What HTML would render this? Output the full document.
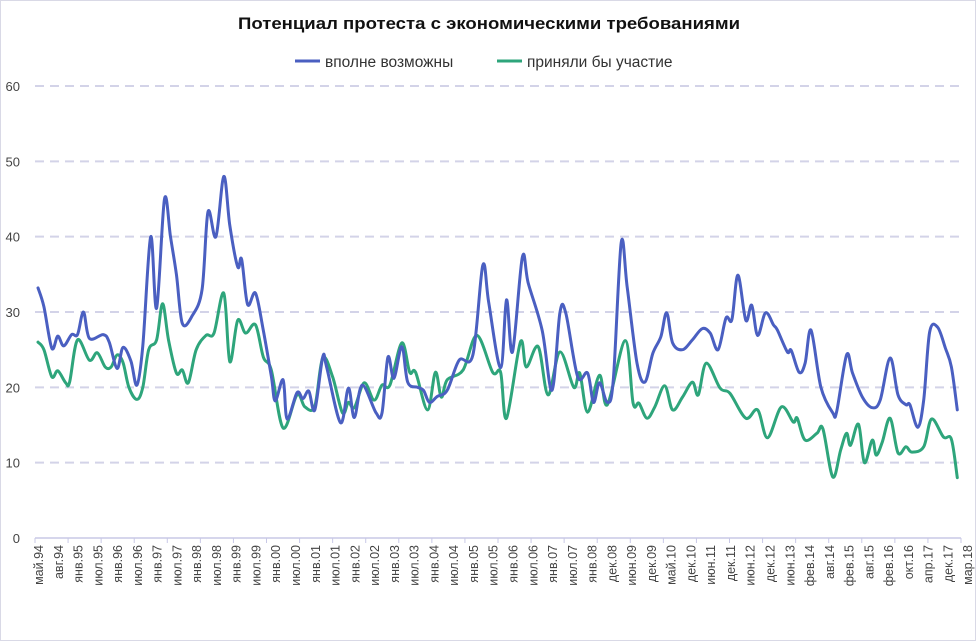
<!DOCTYPE html>
<html><head><meta charset="utf-8"><style>
html,body{margin:0;padding:0;background:#fff;}
body{width:976px;height:641px;overflow:hidden;}
svg{display:block;font-family:"Liberation Sans","DejaVu Sans",sans-serif;}
</style></head><body>
<svg id="chart" width="976" height="641" viewBox="0 0 976 641">
<rect x="0.5" y="0.5" width="975" height="640" fill="#fff" stroke="#d9d9e6"/>
<text x="489" y="29" text-anchor="middle" font-size="17" font-weight="bold" fill="#111" textLength="502" lengthAdjust="spacingAndGlyphs">Потенциал  протеста  с экономическими  требованиями</text>
<g>
<g>
<line x1="295" y1="61" x2="320" y2="61" stroke="#4a5fc1" stroke-width="3"/>
<text x="325" y="67" font-size="15.5" fill="#333">вполне возможны</text></g>
<g>
<line x1="497" y1="61" x2="522" y2="61" stroke="#2ea57b" stroke-width="3"/>
<text x="527" y="67" font-size="15.5" fill="#333">приняли бы участие</text></g>
</g>
<g id="grid"></g><g id="axes"></g><g id="series"></g>
</svg>
<script>
const xLabels=["май.94","авг.94","янв.95","июл.95","янв.96","июл.96","янв.97","июл.97","янв.98","июл.98","янв.99","июл.99","янв.00","июл.00","янв.01","июл.01","янв.02","июл.02","янв.03","июл.03","янв.04","июл.04","янв.05","июл.05","янв.06","июл.06","янв.07","июл.07","янв.08","дек.08","июн.09","дек.09","май.10","дек.10","июн.11","дек.11","июн.12","дек.12","июн.13","фев.14","авг.14","фев.15","авг.15","фев.16","окт.16","апр.17","дек.17","мар.18"];
const yTicks=[0,10,20,30,40,50,60];
// time positions in tenths of a label step
const possibleT=[0,3,7,10,13,17,20,23,26,33,36,40,43,47,50,53,57,60,64,67,70,73,78,83,86,90,94,97,101,103,106,110,114,118,120,124,126,131,134,137,140,144,146,153,157,160,164,171,174,177,180,184,187,192,195,198,202,207,213,220,225,228,234,237,240,245,248,255,260,264,267,273,278,281,284,288,291,295,298,303,307,311,315,318,321,326,331,336,340,344,348,351,354,358,361,364,368,372,374,379,381,385,388,391,396,402,404,409,412,417,422,426,431,435,439,441,445,448,451,455,459,462,465];
const possibleV=[33.2,30.7,25.2,26.8,25.5,27,27,30,26.5,27,26,22.5,25.3,23.5,20.3,25.5,40,30.5,45,40,35,28.5,29.5,33,43.3,40,48,41.5,36,37,31,32.5,27.5,21.5,18.2,21,15.8,19.3,18.5,19.5,17,24,22.7,15.3,19.9,16,20.3,16.6,16.6,24,21.2,25.4,20.7,20,19.6,18,18.8,19.6,23.6,24.3,36.2,31.2,22.6,31.6,24.7,37.3,33.8,27.6,19.6,29.9,29.8,21.4,21.9,18,20.6,18,21,39.2,33.4,23.2,20.7,24.5,26.7,29.9,25.9,25,26.3,27.8,27.2,25,29.2,29,34.9,28.9,30.9,26.9,29.9,28.3,27.6,24.7,24.9,22,23.2,27.6,20,16.6,16.8,24.3,21.9,18.7,17.3,18.3,23.9,19,17.7,17.7,14.7,18.3,27.3,28,25.2,22.7,17];
const participateT=[0,3,7,10,14,16,20,26,30,34,37,40,43,46,50,53,56,60,63,66,70,73,76,80,85,89,94,97,101,105,110,114,118,124,131,135,140,144,149,154,157,160,165,170,174,178,184,188,191,197,201,204,207,215,222,230,234,237,244,247,253,258,264,271,274,278,284,288,297,301,304,308,312,317,321,326,331,334,338,345,350,358,364,369,376,382,384,388,394,397,402,406,409,411,415,418,422,424,427,431,435,439,442,448,452,458,462,465];
const participateV=[26,25,21.4,22.2,20.6,20.7,26.3,23.6,24.6,22.7,22.7,24.3,23.3,20,18.4,20,25,26.3,31.1,26.3,21.9,22.3,20.6,25,26.9,27.2,32.5,23.4,28.9,27.2,28.3,24,22.3,14.6,19,17.4,17.5,23.9,21.4,16.6,18,17.3,20.6,18.3,20.3,20.3,25.9,22,22,17,22,18.7,21,22.3,26.9,22,22,15.9,26,22.7,25.4,19,24.7,20,21.9,16.7,21.6,17.7,26.2,17.9,17.9,15.9,17.4,20.2,17,18.7,20.7,19,23.2,19.9,19.2,15.9,17,13.3,17.4,15.4,15.9,13,13.9,14.5,8.1,11.7,13.9,12.3,15.1,10,13,11,12.7,15.9,11.3,12.1,11.4,12.1,15.8,13.4,13.1,8];

const NS="http://www.w3.org/2000/svg";
const X0=35,X1=961,Y0=538,Y60=86;
function xT(t){return 38+t*1.977;}
function xLab(i){return 39+i*19.77;}
function yV(v){return Y0-(v/60)*(Y0-Y60);}
function mk(tag,attrs,parent){const e=document.createElementNS(NS,tag);for(const k in attrs)e.setAttribute(k,attrs[k]);parent.appendChild(e);return e;}
const grid=document.getElementById('grid'),axes=document.getElementById('axes'),series=document.getElementById('series');
yTicks.forEach(v=>{
  if(v>0){const g=mk('line',{x1:X0,x2:X1,y1:yV(v),y2:yV(v),stroke:'#d3d3e8','stroke-width':2,'stroke-dasharray':'9,6'},grid);
  
  }
  const t=mk('text',{x:20,y:yV(v)+5,'text-anchor':'end','font-size':13,fill:'#444'},axes);
  t.textContent=v;
  
  
});
const ax=mk('line',{x1:X0,x2:X1,y1:Y0,y2:Y0,stroke:'#c8c8e6','stroke-width':1.5},axes);


for(let i=0;i<=28;i++){const x=X0+i*(X1-X0)/28;
  const tk=mk('line',{x1:x,x2:x,y1:Y0,y2:Y0+5,stroke:'#c8c8e6','stroke-width':1},axes);
  
  }
xLabels.forEach((s,i)=>{const x=xLab(i)+4,y=545;
  const t=mk('text',{x:x,y:y,'text-anchor':'end','font-size':12.5,fill:'#444',transform:`rotate(-90 ${x} ${y})`},axes);
  t.textContent=s;
  
  });
function pathFor(T,V){const n=Math.min(T.length,V.length);const p=[];for(let i=0;i<n;i++)p.push([xT(T[i]),yV(V[i])]);
  let d=`M${p[0][0]},${p[0][1]}`;
  for(let i=0;i<p.length-1;i++){const a=p[i-1]||p[i],b=p[i],c=p[i+1],e=p[i+2]||c;
    const c1=[b[0]+(c[0]-a[0])/6,b[1]+(c[1]-a[1])/6],c2=[c[0]-(e[0]-b[0])/6,c[1]-(e[1]-b[1])/6];
    d+=` C${c1[0].toFixed(1)},${c1[1].toFixed(1)} ${c2[0].toFixed(1)},${c2[1].toFixed(1)} ${c[0].toFixed(1)},${c[1].toFixed(1)}`;}
  return d;}
const l1=mk('path',{d:pathFor(participateT,participateV),fill:'none',stroke:'#2ea57b','stroke-width':3,'stroke-linejoin':'round','stroke-linecap':'round'},series);


const l2=mk('path',{d:pathFor(possibleT,possibleV),fill:'none',stroke:'#4a5fc1','stroke-width':3,'stroke-linejoin':'round','stroke-linecap':'round'},series);


</script>
</body></html>
